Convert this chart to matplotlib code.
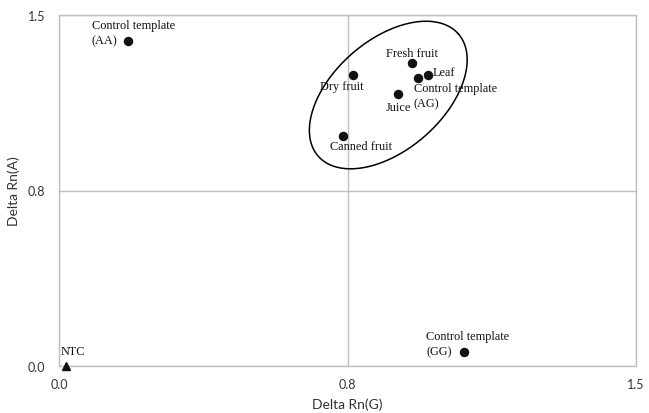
import numpy as np
import matplotlib.pyplot as plt

# Delta Rn values for each sample
samples = ['Control template\n(AA)', 'Dry fruit', 'Fresh fruit', 'Leaf',
           'Control template\n(AG)', 'Juice', 'Canned fruit', 'Control template\n(GG)']
delta_g = [0.179, 0.764, 0.918, 0.959, 0.933, 0.881, 0.738, 1.053]
delta_a = [1.389, 1.244, 1.295, 1.244, 1.231, 1.162, 0.983, 0.060]

ntc_label = 'NTC'
ntc_g = [0.018]
ntc_a = [0.0]

ticks = [0.0, 0.75, 1.5]

# label placement (pixel offsets from point, alignment)
label_pos = [(-36, 8.5, 'left'), (-11, -11, 'center'), (0, 10, 'center'), (5, 3, 'left'),
             (-4, -17.5, 'left'), (0, -13, 'center'), (18, -10, 'center'), (-38, 8, 'left')]

serif = 'Liberation Serif'
sans = 'Lato'
grid_col = '#c0c0c0'

fig = plt.figure(figsize=(6.49, 4.14), dpi=100)
ax = fig.add_axes([59 / 649, 47 / 414, 577 / 649, 351 / 414])

ax.set_xlim(0, 1.5)
ax.set_ylim(0, 1.5)
ax.set_xticks(ticks)
ax.set_yticks(ticks)
ax.xaxis.set_major_formatter(plt.FormatStrFormatter('%.1f'))
ax.yaxis.set_major_formatter(plt.FormatStrFormatter('%.1f'))
ax.tick_params(length=0, labelsize=9, labelcolor='#333333')
ax.tick_params(axis='y', pad=10)
ax.tick_params(axis='x', pad=9)
for lab in ax.get_xticklabels() + ax.get_yticklabels():
    lab.set_family(sans)
ax.grid(True, color=grid_col, linewidth=1.0)
ax.set_axisbelow(True)
for sp in ax.spines.values():
    sp.set_color(grid_col)
    sp.set_linewidth(1.0)

ax.plot(delta_g, delta_a, 'o', color='#111111', markersize=5.8, linestyle='none', clip_on=False, zorder=3)
ax.plot(ntc_g, ntc_a, '^', color='#111111', markersize=6, linestyle='none', clip_on=False, zorder=3)

for name, x, y, (dx, dy, ha) in zip(samples, delta_g, delta_a, label_pos):
    ax.annotate(name, (x, y), xytext=(dx, dy), textcoords='offset pixels',
                ha=ha, va='center', multialignment='left', linespacing=1.35,
                fontsize=8.8, family=serif, color='#111111')
ax.annotate(ntc_label, (ntc_g[0], ntc_a[0]), xytext=(-5, 15), textcoords='offset pixels',
            ha='left', va='center', fontsize=8.8, family=serif, color='#111111')

# ellipse drawn around the sample cluster (in pixel space, then mapped to data)
bbox = ax.get_window_extent()
sx = bbox.width / 1.5
sy = bbox.height / 1.5
cx, cy = 0.856, 1.158
a, b, th = 93, 55, np.radians(41)
t = np.linspace(0, 2 * np.pi, 300)
px = a * np.cos(t) * np.cos(th) - b * np.sin(t) * np.sin(th)
py = a * np.cos(t) * np.sin(th) + b * np.sin(t) * np.cos(th)
ax.plot(cx + px / sx, cy + py / sy, color='black', linewidth=1.1, zorder=2)

ax.set_xlabel('Delta Rn(G)', fontsize=10, family=sans, color='#333333', va='center')
ax.set_ylabel('Delta Rn(A)', fontsize=10, family=sans, color='#333333', va='center')
ax.xaxis.set_label_coords(0.5, -38 / 351)
ax.yaxis.set_label_coords(-45 / 577, 0.5)

fig.savefig('out.png', dpi=100)
